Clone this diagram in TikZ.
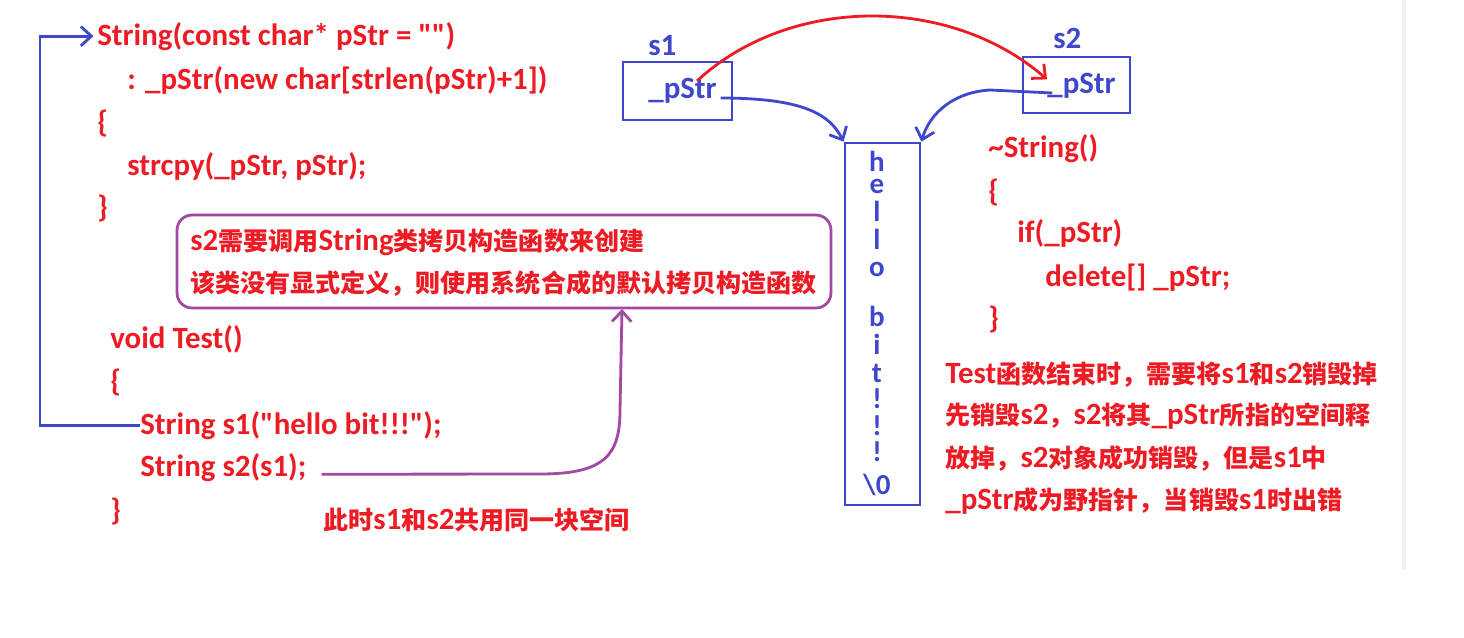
\documentclass[tikz,border=0pt]{standalone}
\usepackage{fontspec}
\setmainfont{Carlito}[Ligatures=TeXOff]
\newfontfamily\cjk{Noto Sans CJK SC}[Scale=0.81]
\usetikzlibrary{arrows.meta,positioning,calc}
\definecolor{codeRed}{RGB}{237,28,36}
\definecolor{ptrBlue}{RGB}{63,72,204}
\definecolor{notePurple}{RGB}{163,73,164}
\newcommand{\zh}[1]{{\cjk #1}}
\newcommand{\codefont}{\bfseries\fontsize{17.6}{20}\selectfont}

\begin{document}
\begin{tikzpicture}[x=0.02cm, y=-0.02cm,
    code/.style={text=codeRed, font=\codefont, anchor=base west, inner sep=0pt},
    blue text/.style={text=ptrBlue, font=\codefont, inner sep=0pt},
    membox/.style={draw=ptrBlue, line width=1.6pt, inner sep=0pt},
    ptr/.style={ptrBlue, line width=1.6pt, -{Straight Barb[length=6pt,width=11pt]}}]
  \fill[white] (0,0) rectangle (1464,637);
  \useasboundingbox (0,0) rectangle (1464,637);
  \draw[black!5, line width=2pt] (1404,0) -- (1404,570);
  % Constructor
  \node[code] (ctor) at (97,45) {String(const char* pStr = "")};
  \node[code] (init) at (127,89) {: \_pStr(new char[strlen(pStr)+1])};
  \node[code] (cb1) at (97,132) {\{};
  \node[code] (copy) at (127,175) {strcpy(\_pStr, pStr);};
  \node[code] (cb2) at (97,217) {\}};
  % Note box
  \node[draw=notePurple, line width=1.6pt, rounded corners=0.3cm,
        minimum width=13.08cm, minimum height=1.86cm] (note) at (504,261.5) {};
  \node[code] (note1) at (190,250) {s2\zh{需要调用}String\zh{类拷贝构造函数来创建}};
  \node[code] (note2) at (190,292) {\zh{该类没有显式定义，则使用系统合成的默认拷贝构造函数}};
  % Test()
  \node[code] (test) at (110,348) {void Test()};
  \node[code] (tb1) at (110,391) {\{};
  \node[code] (s1line) at (140,434) {String s1("hello bit!!!");};
  \node[code] (s2line) at (140,476) {String s2(s1);};
  \node[code] (tb2) at (110,520) {\}};
  \node[code] (share) at (323,529) {\zh{此时}s1\zh{和}s2\zh{共用同一块空间}};
  % Objects and heap memory
  \node[membox, minimum width=2.18cm, minimum height=1.16cm] (s1box) at (677.5,91) {};
  \node[membox, minimum width=2.14cm, minimum height=1.12cm] (s2box) at (1076.5,85) {};
  \node[blue text, anchor=base west] (s1name) at (648,55) {s1};
  \node[blue text, anchor=base west] (s2name) at (1053,48) {s2};
  \node[blue text, anchor=base west] (p1) at (648,98) {\_pStr};
  \node[blue text, anchor=base west] (p2) at (1047,93) {\_pStr};
  \node[membox, minimum width=1.5cm, minimum height=7.24cm] (mem) at (882.5,324) {};
  \foreach \ch/\yy [count=\i] in {h/171, e/193, l/221, l/249, o/276, b/326,
      i/354, t/382, !/408, !/435, !/461, {\textbackslash 0}/494}
    \node[blue text, font=\bfseries\fontsize{16.5}{18}\selectfont, anchor=base] (c\i) at (877,\yy) {\ch};
  % Destructor
  \node[code] (dtor) at (988,157) {\textasciitilde String()};
  \node[code] (db1) at (988,201) {\{};
  \node[code] (dif) at (1017,242) {if(\_pStr)};
  \node[code] (ddel) at (1045,286) {delete[] \_pStr;};
  \node[code] (db2) at (988,328) {\}};
  \node[code] (r1) at (945,383) {Test\zh{函数结束时，需要将}s1\zh{和}s2\zh{销毁掉}};
  \node[code] (r2) at (945,424) {\zh{先销毁}s2\zh{，}s2\zh{将其}\_pStr\zh{所指的空间释}};
  \node[code] (r3) at (945,467) {\zh{放掉，}s2\zh{对象成功销毁，但是}s1\zh{中}};
  \node[code] (r4) at (945,509) {\_pStr\zh{成为野指针，当销毁}s1\zh{时出错}};
  % Connectors
  \coordinate (loopx) at (40,0);
  \draw[ptr] (s1line.west) -- (s1line.west -| loopx) |- ([xshift=-2pt]ctor.west);
  \draw[ptr] ([xshift=2pt]p1.base east) .. controls (805,98) and (830,115) .. (mem.north west);
  \draw[ptr] ([xshift=3pt]p2.base west) -- (990,90) .. controls (955,92) and (930,112) .. (mem.north east);
  \draw[codeRed, line width=1.6pt, -{Straight Barb[length=6pt,width=11pt]}]
    ([xshift=-0.4cm,yshift=-2pt]p1.north east) .. controls (790,-5) and (950,-5) .. ([yshift=-4pt]p2.north west);
  \coordinate (noteIn) at (622,309);
  \draw[notePurple, line width=1.6pt, -{Straight Barb[length=6pt,width=11pt]}]
    ([xshift=0.3cm,yshift=1pt]s2line.base east) -- (540,474)
    .. controls (605,474) and (620,455) .. (620,410) -- (noteIn);
\end{tikzpicture}
\end{document}
